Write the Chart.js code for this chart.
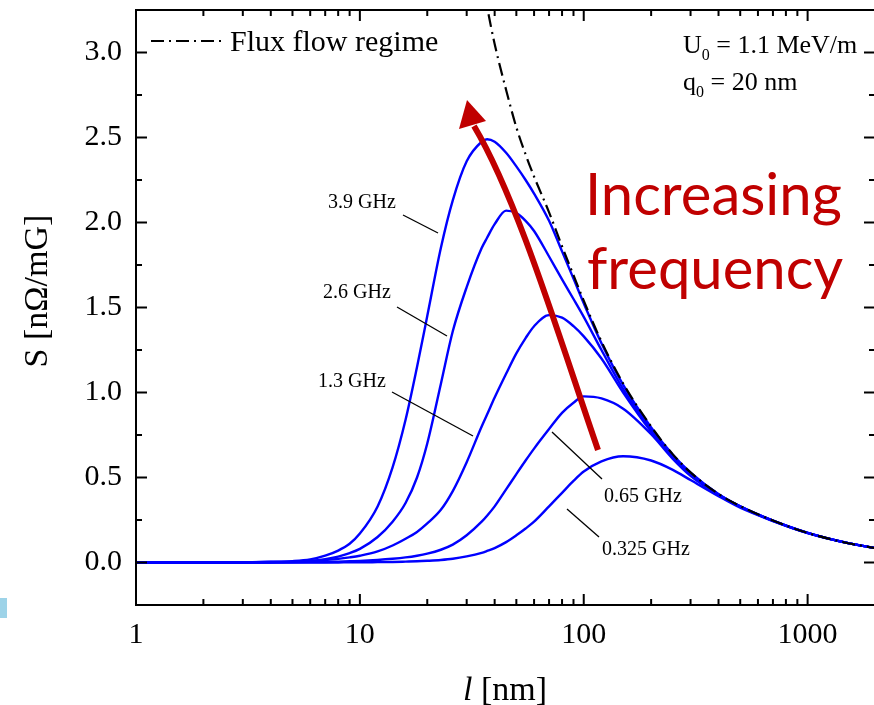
<!DOCTYPE html>
<html>
<head>
<meta charset="utf-8">
<script src="https://cdn.jsdelivr.net/npm/chart.js@4.4.0/dist/chart.umd.min.js"></script>
<style>
  html, body { margin: 0; padding: 0; background: #fff; overflow: hidden; }
  #wrap { width: 880px; height: 705px; }
</style>
</head>
<body>
<div id="wrap"><canvas id="chart" width="880" height="705"></canvas></div>
<script>
// ========================
// DATA
// ========================
// mean free path l [nm]
const L_NM = [1, 2, 3, 4, 5, 6, 7, 8, 9, 10, 12, 14, 16, 18, 20, 23, 26, 30, 35, 37, 40, 45, 50, 55, 60, 70, 80, 90, 100, 120, 150, 200, 250, 300, 400, 500, 700, 1000, 1500, 2000];

// sensitivity S [nOhm/mG] per frequency
const S_3_9GHZ  = [0, 0, 0.001, 0.004, 0.008, 0.018, 0.04, 0.07, 0.11, 0.17, 0.33, 0.56, 0.84, 1.15, 1.45, 1.85, 2.13, 2.36, 2.475, 2.49, 2.475, 2.41, 2.33, 2.25, 2.17, 2.01, 1.83, 1.67, 1.525, 1.29, 1.045, 0.795, 0.633, 0.528, 0.402, 0.33, 0.246, 0.174, 0.115, 0.085];
const S_2_6GHZ  = [0, 0, 0.001, 0.003, 0.005, 0.01, 0.02, 0.035, 0.055, 0.08, 0.15, 0.24, 0.35, 0.50, 0.70, 1.05, 1.36, 1.62, 1.85, 1.91, 1.99, 2.07, 2.055, 2.01, 1.95, 1.80, 1.665, 1.55, 1.445, 1.25, 1.02, 0.785, 0.628, 0.525, 0.401, 0.33, 0.246, 0.174, 0.115, 0.085];
const S_1_3GHZ  = [0, 0, 0.001, 0.002, 0.004, 0.008, 0.014, 0.021, 0.03, 0.04, 0.065, 0.10, 0.14, 0.18, 0.23, 0.31, 0.42, 0.59, 0.80, 0.87, 0.97, 1.11, 1.23, 1.32, 1.39, 1.455, 1.44, 1.39, 1.33, 1.20, 1.0, 0.77, 0.62, 0.52, 0.40, 0.329, 0.246, 0.174, 0.115, 0.085];
const S_065GHZ  = [0, 0, 0, 0, 0.001, 0.002, 0.003, 0.005, 0.007, 0.009, 0.015, 0.022, 0.03, 0.04, 0.052, 0.075, 0.105, 0.16, 0.24, 0.275, 0.33, 0.43, 0.52, 0.60, 0.67, 0.785, 0.88, 0.94, 0.977, 0.965, 0.905, 0.755, 0.61, 0.51, 0.396, 0.328, 0.245, 0.174, 0.115, 0.085];
const S_0325GHZ = [0, 0, 0, 0, 0, 0, 0, 0, 0.001, 0.001, 0.002, 0.003, 0.005, 0.007, 0.01, 0.015, 0.022, 0.036, 0.057, 0.068, 0.085, 0.12, 0.16, 0.20, 0.24, 0.33, 0.41, 0.48, 0.535, 0.595, 0.625, 0.60, 0.545, 0.485, 0.39, 0.322, 0.244, 0.173, 0.115, 0.085];

// flux flow regime (dash-dot), starts above the frame top
const S_FLUX = [null, null, null, null, null, null, null, null, null, null, null, null, null, null, null, null, null, 3.95, 3.45, 3.27, 3.05, 2.78, 2.56, 2.40, 2.27, 2.06, 1.86, 1.69, 1.54, 1.30, 1.053, 0.80, 0.636, 0.53, 0.403, 0.332, 0.247, 0.174, 0.115, 0.085];

const X_TICKS = [1, 10, 100, 1000];
const Y_TICKS = [0, 0.5, 1, 1.5, 2, 2.5, 3];

const CURVE_LABELS = ["3.9 GHz", "2.6 GHz", "1.3 GHz", "0.65 GHz", "0.325 GHz"];

// ========================
// STYLE
// ========================
const BLUE = "#0000ff";
const RED = "#c00000";
const SERIF = "'Liberation Serif', 'Times New Roman', serif";
const DASHDOT = [13, 5, 2, 5];

function pts(vals) {
  return L_NM.map((l, i) => ({ x: l, y: vals[i] }));
}

function blue(vals) {
  return { data: pts(vals), borderColor: BLUE, borderWidth: 2.4, fill: false };
}

// ========================
// Plugins: frame with inward ticks, annotations
// ========================
const framePlugin = {
  id: "frame",
  afterDatasetsDraw(chart) {
    const { ctx, chartArea: a, scales: { x, y } } = chart;
    ctx.save();
    ctx.strokeStyle = "#000";
    ctx.lineWidth = 2;
    ctx.strokeRect(a.left, a.top, a.right - a.left, a.bottom - a.top);

    const seg = (x1, y1, x2, y2) => {
      ctx.beginPath(); ctx.moveTo(x1, y1); ctx.lineTo(x2, y2); ctx.stroke();
    };
    for (let d = 1; d <= 1000; d *= 10) {
      for (let m = 1; m <= 9; m++) {
        const v = d * m;
        if (v >= 2000) continue;
        const px = x.getPixelForValue(v);
        const len = m === 1 ? 11 : 6;
        seg(px, a.bottom, px, a.bottom - len);
        seg(px, a.top, px, a.top + len);
      }
    }
    for (let k = 1; k < 14; k++) {
      const v = -0.25 + k * 0.25;
      const py = y.getPixelForValue(v);
      const len = k % 2 === 1 ? 11 : 6;
      seg(a.left, py, a.left + len, py);
      seg(a.right, py, a.right - len, py);
    }
    ctx.restore();
  },
  afterDraw(chart) {
    const ctx = chart.ctx;
    ctx.save();

    // small light-blue mark at the left edge
    ctx.fillStyle = "#9dd3e8";
    ctx.fillRect(0, 598, 7, 20);

    // axis titles
    ctx.fillStyle = "#000";
    ctx.font = "34px " + SERIF;
    ctx.textAlign = "center";
    ctx.textBaseline = "middle";
    ctx.save();
    ctx.translate(38, 291);
    ctx.rotate(-Math.PI / 2);
    ctx.fillText("S [n\u03A9/mG]", 0, 0);
    ctx.restore();

    ctx.textAlign = "left";
    ctx.textBaseline = "alphabetic";
    ctx.font = "italic 34px " + SERIF;
    const wL = ctx.measureText("l").width;
    ctx.font = "34px " + SERIF;
    const wR = ctx.measureText(" [nm]").width;
    const x0 = 505 - (wL + wR) / 2;
    ctx.font = "italic 34px " + SERIF;
    ctx.fillText("l", x0, 700);
    ctx.font = "34px " + SERIF;
    ctx.fillText(" [nm]", x0 + wL, 700);

    // legend
    ctx.strokeStyle = "#000";
    ctx.lineWidth = 2;
    ctx.setLineDash(DASHDOT);
    ctx.beginPath(); ctx.moveTo(151, 41); ctx.lineTo(224, 41); ctx.stroke();
    ctx.setLineDash([]);
    ctx.font = "30px " + SERIF;
    ctx.fillText("Flux flow regime", 230, 51);

    // parameters, top right
    const sub = (main, subTxt, rest, x, yb) => {
      ctx.font = "26px " + SERIF;
      ctx.fillText(main, x, yb);
      let cx = x + ctx.measureText(main).width;
      ctx.font = "16px " + SERIF;
      ctx.fillText(subTxt, cx, yb + 7);
      cx += ctx.measureText(subTxt).width;
      ctx.font = "26px " + SERIF;
      ctx.fillText(rest, cx, yb);
    };
    sub("U", "0", " = 1.1 MeV/m", 683, 53);
    sub("q", "0", " = 20 nm", 683, 90);

    // curve labels with leader lines
    ctx.font = "20px " + SERIF;
    ctx.textBaseline = "middle";
    const labelPos = [[328, 203], [323, 293], [318, 382], [604, 497], [602, 550]];
    const leaders = [
      [403, 215, 438, 233],
      [397, 307, 447, 336],
      [392, 392, 473, 436],
      [552, 432, 602, 479],
      [567, 509, 599, 537]
    ];
    CURVE_LABELS.forEach((t, i) => {
      ctx.fillText(t, labelPos[i][0], labelPos[i][1]);
      const [ax, ay, bx, by] = leaders[i];
      ctx.lineWidth = 1.3;
      ctx.beginPath(); ctx.moveTo(ax, ay); ctx.lineTo(bx, by); ctx.stroke();
    });

    // red arrow
    ctx.strokeStyle = RED;
    ctx.fillStyle = RED;
    ctx.lineWidth = 6;
    ctx.beginPath();
    ctx.moveTo(598, 450);
    ctx.bezierCurveTo(560, 340, 518, 200, 474, 126);
    ctx.stroke();
    ctx.beginPath();
    ctx.moveTo(467, 100);
    ctx.lineTo(459, 129);
    ctx.lineTo(486, 121);
    ctx.closePath();
    ctx.fill();

    ctx.font = "58px Lato, 'Liberation Sans', sans-serif";
    ctx.textBaseline = "alphabetic";
    ctx.fillText("Increasing", 585, 215);
    ctx.fillText("frequency", 587, 289);

    ctx.restore();
  }
};

// ========================
// Chart.js
// ========================
const ctx = document.getElementById("chart").getContext("2d");

new Chart(ctx, {
  type: "line",
  data: {
    datasets: [
      { data: pts(S_FLUX), borderColor: "#000", borderWidth: 2.2, borderDash: DASHDOT, fill: false },
      blue(S_3_9GHZ),
      blue(S_2_6GHZ),
      blue(S_1_3GHZ),
      blue(S_065GHZ),
      blue(S_0325GHZ)
    ]
  },
  options: {
    responsive: false,
    animation: false,
    layout: { padding: { top: 10, right: 5, left: 0, bottom: 0 } },
    elements: {
      point: { radius: 0 },
      line: { cubicInterpolationMode: "monotone" }
    },
    plugins: {
      legend: { display: false },
      tooltip: { enabled: false }
    },
    scales: {
      x: {
        type: "logarithmic",
        min: 1,
        max: 2000,
        grid: { display: false, drawTicks: false },
        border: { display: false },
        afterBuildTicks: (s) => { s.ticks = X_TICKS.map((v) => ({ value: v })); },
        afterFit: (s) => { s.height = 100; s.paddingLeft = 0; s.paddingRight = 0; },
        ticks: {
          color: "#000",
          font: { family: SERIF, size: 30 },
          padding: 12,
          maxRotation: 0,
          autoSkip: false,
          callback: (v) => String(v)
        }
      },
      y: {
        min: -0.25,
        max: 3.25,
        grid: { display: false, drawTicks: false },
        border: { display: false },
        afterBuildTicks: (s) => { s.ticks = Y_TICKS.map((v) => ({ value: v })); },
        afterFit: (s) => { s.width = 136; s.paddingTop = 0; s.paddingBottom = 0; },
        ticks: {
          color: "#000",
          font: { family: SERIF, size: 30 },
          padding: 14,
          callback: (v) => v.toFixed(1)
        }
      }
    }
  },
  plugins: [framePlugin]
});
</script>
</body>
</html>
